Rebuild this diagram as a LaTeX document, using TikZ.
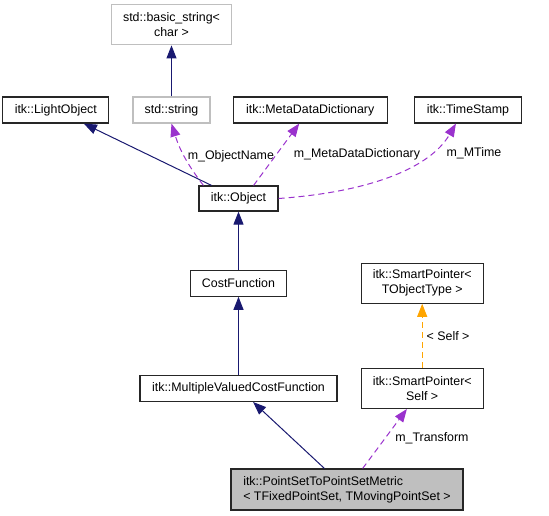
\documentclass[tikz,border=0pt]{standalone}
\usepackage{fontspec}
\setmainfont{Liberation Sans}
\usetikzlibrary{arrows.meta, positioning}
\definecolor{InheritBlue}{HTML}{191970}
\definecolor{MemberPurple}{HTML}{9A32CD}
\definecolor{TemplateOrange}{HTML}{FFA500}
\definecolor{HiddenGray}{HTML}{BFBFBF}
\definecolor{FocusFill}{HTML}{BFBFBF}

\begin{document}
\begin{tikzpicture}[
        x=1pt, y=-1pt,
        font=\fontsize{12.4}{15}\selectfont,
        box/.style={rectangle, draw=black!85, line width=1.2pt, fill=white, inner sep=0pt, minimum height=26pt, align=center},
        tallbox/.style={box, minimum height=40pt},
        greybox/.style={box, draw=HiddenGray},
        focusbox/.style={tallbox, fill=FocusFill, align=left, inner xsep=10pt, minimum height=41pt},
        inh/.style={-{Triangle[length=13pt, width=10pt]}, line width=1pt, InheritBlue},
        usage/.style={-{Triangle[length=13pt, width=10pt]}, line width=1pt, MemberPurple, dash pattern=on 6pt off 4pt},
        tmpl/.style={usage, TemplateOrange},
        lbl/.style={text=black, inner sep=1pt}
      ]
        \useasboundingbox (0,0) rectangle (549,516);

        \node[greybox, minimum width=77pt] (str) at (171.5,110) {std::string};
        \node[greybox, tallbox, draw=HiddenGray, minimum width=120pt, above=51pt of str] (basic) {std::basic\_string\textless\\char \textgreater};
        \node[box, minimum width=106pt, left=23pt of str] (light) {itk::LightObject};
        \node[box, minimum width=154pt, right=22pt of str] (meta) {itk::MetaDataDictionary};
        \node[box, minimum width=107pt, right=26pt of meta] (time) {itk::TimeStamp};

        \node[box, minimum width=79pt, minimum height=25pt] (obj) at (238.5,198.5) {itk::Object};
        \node[box, minimum width=96pt, below=58pt of obj] (cost) {CostFunction};
        \node[box, minimum width=197pt, below=78pt of cost] (mvc) {itk::MultipleValuedCostFunction};
        \node[tallbox, minimum width=122pt, right=23pt of mvc] (spself) {itk::SmartPointer\textless\\Self \textgreater};
        \node[tallbox, minimum width=122pt, above=64pt of spself] (sptype) {itk::SmartPointer\textless\\TObjectType \textgreater};
        \node[focusbox, minimum width=232pt] (metric) at (347,489.5) {itk::PointSetToPointSetMetric\\\textless{} TFixedPointSet, TMovingPointSet \textgreater};

        \draw[inh] (str) -- (basic);
        \draw[inh] (obj) -- (light);
        \draw[usage] ([xshift=5pt]obj.north west) to[bend left=10] node[lbl, right=2pt] {m\_ObjectName} (str.south);
        \draw[usage] ([xshift=-25pt]obj.north east) -- node[lbl, right=16pt] {m\_MetaDataDictionary} ([xshift=-11pt]meta.south);
        \draw[usage] (obj.east) .. controls (370,192) and (430,168) .. node[lbl, pos=0.75, right=15pt] {m\_MTime} ([xshift=-12pt]time.south);
        \draw[inh] (cost) -- (obj);
        \draw[inh] (mvc) -- (cost);
        \draw[inh] (metric) -- (mvc);
        \draw[usage] (metric) -- node[lbl, right=9pt] {m\_Transform} (spself);
        \draw[tmpl] (spself) -- node[lbl, right=3pt] {\textless{} Self \textgreater} (sptype);
      \end{tikzpicture}
\end{document}
